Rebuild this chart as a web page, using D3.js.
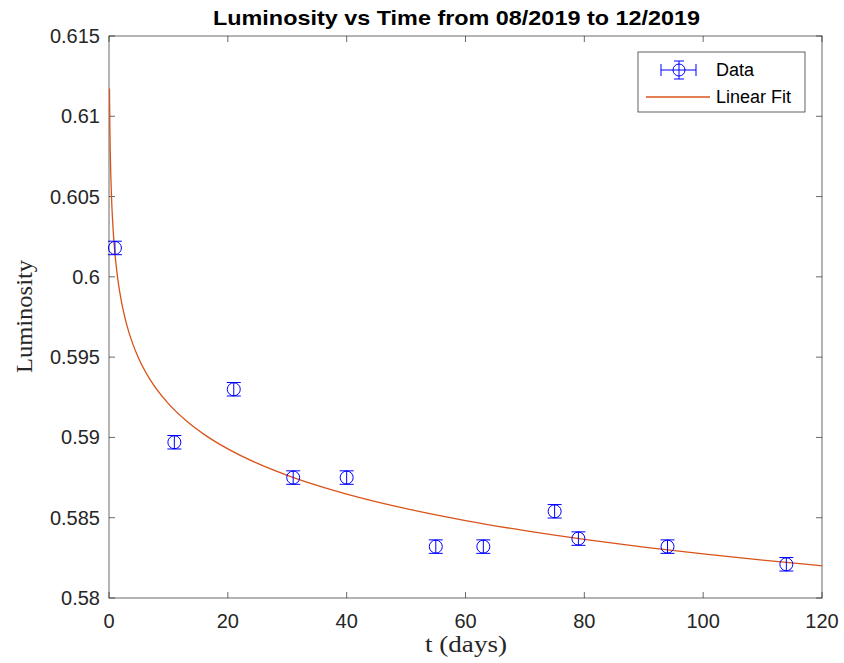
<!DOCTYPE html>
<html><head><meta charset="utf-8">
<script src="https://cdn.jsdelivr.net/npm/d3@7"></script>
<style>body{margin:0;background:#fff;}svg{display:block;}</style>
</head><body>
<svg id="c" width="844" height="663"></svg>
<script>
const tDays = [1, 11, 21, 31, 40, 55, 63, 75, 79, 94, 114];
const luminosity = [0.6018, 0.5897, 0.5930, 0.5875, 0.5875, 0.5832, 0.5832, 0.5854, 0.5837, 0.5832, 0.5821];
const yErr = [0.00042, 0.00042, 0.00042, 0.00042, 0.00042, 0.00042, 0.00042, 0.00042, 0.00042, 0.00042, 0.00042];
// fitted curve y = a + b*ln(t)
const fitA = 0.60146, fitB = -0.004064;
const fitT = [0.08,0.1,0.15,0.2,0.3,0.4,0.5,0.7,1,1.5,2,3,4,5,7,10,13,16,20,25,30,35,40,50,60,70,80,90,100,110,120];
const xTicks = [0, 20, 40, 60, 80, 100, 120];
const yTicks = [0.58, 0.585, 0.59, 0.595, 0.6, 0.605, 0.61, 0.615];
const yTickLabels = ["0.58","0.585","0.59","0.595","0.6","0.605","0.61","0.615"];

const svg = d3.select("#c");
const L = 109, R = 822, T = 36, B = 598;
const x = d3.scaleLinear().domain([0,120]).range([L,R]);
const y = d3.scaleLinear().domain([0.58,0.615]).range([B,T]);
const axisCol = "#262626";
const font = "'Liberation Sans', Arial, sans-serif";
const serif = "'Liberation Serif','DejaVu Serif',serif";

// box
svg.append("rect").attr("x",L).attr("y",T).attr("width",R-L).attr("height",B-T)
  .attr("fill","none").attr("stroke",axisCol).attr("stroke-width",0.8).attr("opacity",0.85);

const tl = 6;
const g = svg.append("g").attr("stroke",axisCol).attr("stroke-width",0.8).attr("opacity",0.85);
xTicks.forEach(v=>{
  g.append("line").attr("x1",x(v)).attr("x2",x(v)).attr("y1",B).attr("y2",B-tl);
  g.append("line").attr("x1",x(v)).attr("x2",x(v)).attr("y1",T).attr("y2",T+tl);
});
yTicks.forEach(v=>{
  g.append("line").attr("x1",L).attr("x2",L+tl).attr("y1",y(v)).attr("y2",y(v));
  g.append("line").attr("x1",R).attr("x2",R-tl).attr("y1",y(v)).attr("y2",y(v));
});
xTicks.forEach(v=>{
  svg.append("text").attr("x",x(v)).attr("y",B+30).attr("text-anchor","middle")
    .attr("font-family",font).attr("font-size",20).attr("fill",axisCol).text(v);
});
yTicks.forEach((v,i)=>{
  svg.append("text").attr("x",L-9).attr("y",y(v)+7).attr("text-anchor","end")
    .attr("font-family",font).attr("font-size",20).attr("fill",axisCol).text(yTickLabels[i]);
});

// title
svg.append("text").attr("x",213).attr("y",25)
  .attr("font-family",font).attr("font-size",21).attr("font-weight","bold").attr("fill","#000")
  .attr("textLength",487).attr("lengthAdjust","spacingAndGlyphs")
  .text("Luminosity vs Time from 08/2019 to 12/2019");
// axis labels
svg.append("text").attr("x",425).attr("y",652)
  .attr("font-family",serif).attr("font-size",23).attr("fill",axisCol)
  .attr("textLength",82).attr("lengthAdjust","spacingAndGlyphs")
  .text("t (days)");
svg.append("text").attr("transform",`translate(32,373) rotate(-90)`)
  .attr("font-family",serif).attr("font-size",23).attr("fill",axisCol)
  .attr("textLength",113).attr("lengthAdjust","spacingAndGlyphs")
  .text("Luminosity");

// clip
svg.append("clipPath").attr("id","clip").append("rect").attr("x",L).attr("y",T).attr("width",R-L).attr("height",B-T);

// fit
const line = d3.line().x(d=>x(d)).y(d=>y(fitA+fitB*Math.log(d))).curve(d3.curveMonotoneX);
svg.append("path").datum(fitT).attr("d",line).attr("fill","none").attr("stroke","#D95319")
  .attr("stroke-width",1.3).attr("clip-path","url(#clip)");

// data error bars
const blue = "#0000FF";
const data = tDays.map((t,i)=>({t, v:luminosity[i], ey:yErr[i]}));
const pg = svg.append("g").attr("stroke",blue).attr("fill","none").attr("stroke-width",1);
const cap = 7;
data.forEach(d=>{
  const cx = x(d.t), cy = y(d.v);
  const y0 = y(d.v-d.ey), y1 = y(d.v+d.ey);
  pg.append("line").attr("x1",cx).attr("x2",cx).attr("y1",y0).attr("y2",y1);
  pg.append("line").attr("x1",cx-cap).attr("x2",cx+cap).attr("y1",y0).attr("y2",y0);
  pg.append("line").attr("x1",cx-cap).attr("x2",cx+cap).attr("y1",y1).attr("y2",y1);
  pg.append("circle").attr("cx",cx).attr("cy",cy).attr("r",6.5);
});

// legend
const lg = svg.append("g");
lg.append("rect").attr("x",638).attr("y",52).attr("width",167).attr("height",60)
  .attr("fill","#fff").attr("stroke",axisCol).attr("stroke-width",0.8).attr("opacity",0.9);
const ly1 = 70, ly2 = 97;
const lgp = lg.append("g").attr("stroke",blue).attr("fill","none").attr("stroke-width",1);
lgp.append("line").attr("x1",661).attr("x2",696).attr("y1",ly1).attr("y2",ly1);
lgp.append("line").attr("x1",661).attr("x2",661).attr("y1",ly1-6).attr("y2",ly1+6);
lgp.append("line").attr("x1",696).attr("x2",696).attr("y1",ly1-6).attr("y2",ly1+6);
lgp.append("line").attr("x1",679).attr("x2",679).attr("y1",ly1-9).attr("y2",ly1+9);
lgp.append("line").attr("x1",674).attr("x2",684).attr("y1",ly1-9).attr("y2",ly1-9);
lgp.append("line").attr("x1",674).attr("x2",684).attr("y1",ly1+9).attr("y2",ly1+9);
lgp.append("circle").attr("cx",679).attr("cy",ly1).attr("r",6);
lg.append("line").attr("x1",646).attr("x2",710).attr("y1",ly2).attr("y2",ly2).attr("stroke","#D95319").attr("stroke-width",1.3);
lg.append("text").attr("x",716).attr("y",ly1+6).attr("font-family",font).attr("font-size",18).attr("fill","#000").text("Data");
lg.append("text").attr("x",716).attr("y",ly2+6).attr("font-family",font).attr("font-size",18).attr("fill","#000").text("Linear Fit");
</script>
</body></html>
